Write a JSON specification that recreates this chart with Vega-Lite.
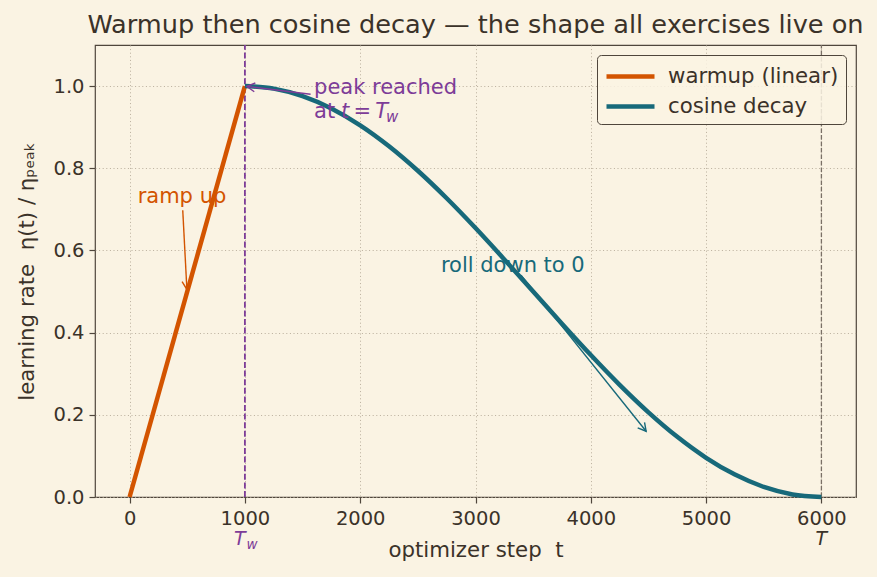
{
  "$schema": "https://vega.github.io/schema/vega-lite/v6.json",
  "width": 761,
  "height": 452,
  "autosize": {"type": "none"},
  "padding": {"left": 95, "top": 45, "right": 21, "bottom": 80},
  "background": "#FAF3E3",
  "title": {
    "text": "Warmup then cosine decay — the shape all exercises live on",
    "fontSize": 25.6,
    "font": "DejaVu Sans",
    "fontWeight": "normal",
    "color": "#3B3229",
    "offset": 6
  },
  "datasets": {
    "curves": [
      {"series": "warmup (linear)", "t": 0, "lr": 0},
      {"series": "warmup (linear)", "t": 1000, "lr": 1},
      {"series": "cosine decay", "t": 1000, "lr": 1},
      {"series": "cosine decay", "t": 1250, "lr": 0.99384},
      {"series": "cosine decay", "t": 1500, "lr": 0.97553},
      {"series": "cosine decay", "t": 1750, "lr": 0.9455},
      {"series": "cosine decay", "t": 2000, "lr": 0.90451},
      {"series": "cosine decay", "t": 2250, "lr": 0.85355},
      {"series": "cosine decay", "t": 2500, "lr": 0.79389},
      {"series": "cosine decay", "t": 2750, "lr": 0.727},
      {"series": "cosine decay", "t": 3000, "lr": 0.65451},
      {"series": "cosine decay", "t": 3250, "lr": 0.57822},
      {"series": "cosine decay", "t": 3500, "lr": 0.5},
      {"series": "cosine decay", "t": 3750, "lr": 0.42178},
      {"series": "cosine decay", "t": 4000, "lr": 0.34549},
      {"series": "cosine decay", "t": 4250, "lr": 0.273},
      {"series": "cosine decay", "t": 4500, "lr": 0.20611},
      {"series": "cosine decay", "t": 4750, "lr": 0.14645},
      {"series": "cosine decay", "t": 5000, "lr": 0.09549},
      {"series": "cosine decay", "t": 5250, "lr": 0.0545},
      {"series": "cosine decay", "t": 5500, "lr": 0.02447},
      {"series": "cosine decay", "t": 5750, "lr": 0.00616},
      {"series": "cosine decay", "t": 6000, "lr": 0}
    ]
  },
  "encoding": {
    "x": {
      "field": "t",
      "type": "quantitative",
      "scale": {"domain": [-300, 6300], "nice": false, "zero": false},
      "axis": {
        "title": "optimizer step\u00a0 t",
        "values": [0, 1000, 2000, 3000, 4000, 5000, 6000],
        "format": "d"
      }
    },
    "y": {
      "field": "lr",
      "type": "quantitative",
      "scale": {"domain": [0, 1.1], "nice": false, "zero": false},
      "axis": {
        "title": "learning rate\u00a0 η(t) / ηₚₑₐₖ",
        "values": [0, 0.2, 0.4, 0.6, 0.8, 1.0],
        "format": ".1f"
      }
    }
  },
  "layer": [
    {
      "data": {"values": [{"t": 1000, "lr": 0, "lr2": 1.1}]},
      "mark": {"type": "rule", "color": "#7D3C98", "strokeWidth": 1.8, "strokeDash": [6, 2.6]},
      "encoding": {"y2": {"field": "lr2"}}
    },
    {
      "data": {"values": [{"t": 6000, "lr": 0, "lr2": 1.1}]},
      "mark": {"type": "rule", "color": "#7A7066", "strokeWidth": 1.3, "strokeDash": [4.5, 2]},
      "encoding": {"y2": {"field": "lr2"}}
    },
    {
      "data": {"name": "curves"},
      "mark": {"type": "line", "strokeWidth": 4.5, "interpolate": "monotone"},
      "encoding": {
        "color": {
          "field": "series",
          "type": "nominal",
          "scale": {"domain": ["warmup (linear)", "cosine decay"], "range": ["#D35400", "#17697A"]},
          "legend": {
            "title": null,
            "orient": "top-right",
            "offset": 10,
            "padding": 7,
            "fillColor": "rgba(250,243,227,0.85)",
            "strokeColor": "#4F463C",
            "cornerRadius": 4,
            "labelFontSize": 21.3,
            "labelColor": "#3B3229",
            "labelFont": "DejaVu Sans",
            "symbolType": "M-1,0H3",
            "symbolSize": 576,
            "symbolStrokeWidth": 4.5,
            "labelOffset": 35,
            "rowPadding": 5,
            "labelLimit": 300
          }
        }
      }
    },
    {
      "data": {"values": [{"t": 461, "lr": 0.698, "t2": 497, "lr2": 0.505}]},
      "mark": {"type": "rule", "color": "#D35400", "strokeWidth": 1.4},
      "encoding": {"x2": {"field": "t2"}, "y2": {"field": "lr2"}}
    },
    {
      "data": {"values": [{"t": 497, "lr": 0.505}]},
      "mark": {"type": "point", "shape": "M-1,-0.55L0,0L-1,0.55", "size": 256, "angle": 87, "filled": false, "color": "#D35400", "strokeWidth": 1.4, "opacity": 1}
    },
    {
      "data": {"values": [{"t": 1570, "lr": 0.98, "t2": 1017, "lr2": 0.9993}]},
      "mark": {"type": "rule", "color": "#7D3C98", "strokeWidth": 1.4},
      "encoding": {"x2": {"field": "t2"}, "y2": {"field": "lr2"}}
    },
    {
      "data": {"values": [{"t": 1017, "lr": 0.9993}]},
      "mark": {"type": "point", "shape": "M-1,-0.55L0,0L-1,0.55", "size": 256, "angle": 187, "filled": false, "color": "#7D3C98", "strokeWidth": 1.4, "opacity": 1}
    },
    {
      "data": {"values": [{"t": 3395, "lr": 0.54, "t2": 4480, "lr2": 0.16}]},
      "mark": {"type": "rule", "color": "#17697A", "strokeWidth": 1.4},
      "encoding": {"x2": {"field": "t2"}, "y2": {"field": "lr2"}}
    },
    {
      "data": {"values": [{"t": 4480, "lr": 0.16}]},
      "mark": {"type": "point", "shape": "M-1,-0.55L0,0L-1,0.55", "size": 256, "angle": 51, "filled": false, "color": "#17697A", "strokeWidth": 1.4, "opacity": 1}
    },
    {
      "data": {"values": [{"t": 70, "lr": 0.715, "s": "ramp up"}]},
      "mark": {"type": "text", "align": "left", "baseline": "alphabetic", "fontSize": 21, "font": "DejaVu Sans", "color": "#D35400"},
      "encoding": {"text": {"field": "s"}}
    },
    {
      "data": {"values": [{"t": 1600, "lr": 0.98, "s": "peak reached"}, {"t": 1600, "lr": 0.922, "s": "at"}]},
      "mark": {"type": "text", "align": "left", "baseline": "alphabetic", "fontSize": 21, "font": "DejaVu Sans", "color": "#7D3C98"},
      "encoding": {"text": {"field": "s"}}
    },
    {
      "data": {"values": [{"t": 1600, "lr": 0.922, "s": "t\u2009=\u2009T"}]},
      "mark": {"type": "text", "align": "left", "baseline": "alphabetic", "fontSize": 21, "font": "DejaVu Sans", "fontStyle": "italic", "color": "#7D3C98", "dx": 27},
      "encoding": {"text": {"field": "s"}}
    },
    {
      "data": {"values": [{"t": 1600, "lr": 0.922, "s": "w"}]},
      "mark": {"type": "text", "align": "left", "baseline": "alphabetic", "fontSize": 15, "font": "DejaVu Sans", "fontStyle": "italic", "color": "#7D3C98", "dx": 72, "dy": 4},
      "encoding": {"text": {"field": "s"}}
    },
    {
      "data": {"values": [{"t": 2700, "lr": 0.547, "s": "roll down to 0"}]},
      "mark": {"type": "text", "align": "left", "baseline": "alphabetic", "fontSize": 21, "font": "DejaVu Sans", "color": "#17697A"},
      "encoding": {"text": {"field": "s"}}
    },
    {
      "data": {"values": [{"t": 1000, "lr": -0.117, "s": "T"}]},
      "mark": {"type": "text", "align": "left", "baseline": "alphabetic", "fontSize": 19, "font": "DejaVu Sans", "fontStyle": "italic", "color": "#7D3C98", "dx": -11},
      "encoding": {"text": {"field": "s"}}
    },
    {
      "data": {"values": [{"t": 1000, "lr": -0.117, "s": "w"}]},
      "mark": {"type": "text", "align": "left", "baseline": "alphabetic", "fontSize": 13.5, "font": "DejaVu Sans", "fontStyle": "italic", "color": "#7D3C98", "dx": 1.5, "dy": 4},
      "encoding": {"text": {"field": "s"}}
    },
    {
      "data": {"values": [{"t": 6000, "lr": -0.117, "s": "T"}]},
      "mark": {"type": "text", "align": "center", "baseline": "alphabetic", "fontSize": 19, "font": "DejaVu Sans", "fontStyle": "italic", "color": "#3B3229"},
      "encoding": {"text": {"field": "s"}}
    }
  ],
  "config": {
    "font": "DejaVu Sans",
    "view": {"stroke": "#4F463C", "strokeWidth": 1.2},
    "axis": {
      "labelFont": "DejaVu Sans",
      "labelFontSize": 19.5,
      "labelColor": "#3B3229",
      "titleFont": "DejaVu Sans",
      "titleFontSize": 21.3,
      "titleFontWeight": "normal",
      "titleColor": "#3B3229",
      "tickColor": "#4F463C",
      "tickSize": 6,
      "tickWidth": 1.2,
      "domain": false,
      "grid": true,
      "gridColor": "#B9AE9C",
      "gridDash": [1, 2.6],
      "gridWidth": 1
    },
    "axisX": {"labelPadding": 6, "titlePadding": 12},
    "axisY": {"labelPadding": 5, "titlePadding": 15}
  }
}
